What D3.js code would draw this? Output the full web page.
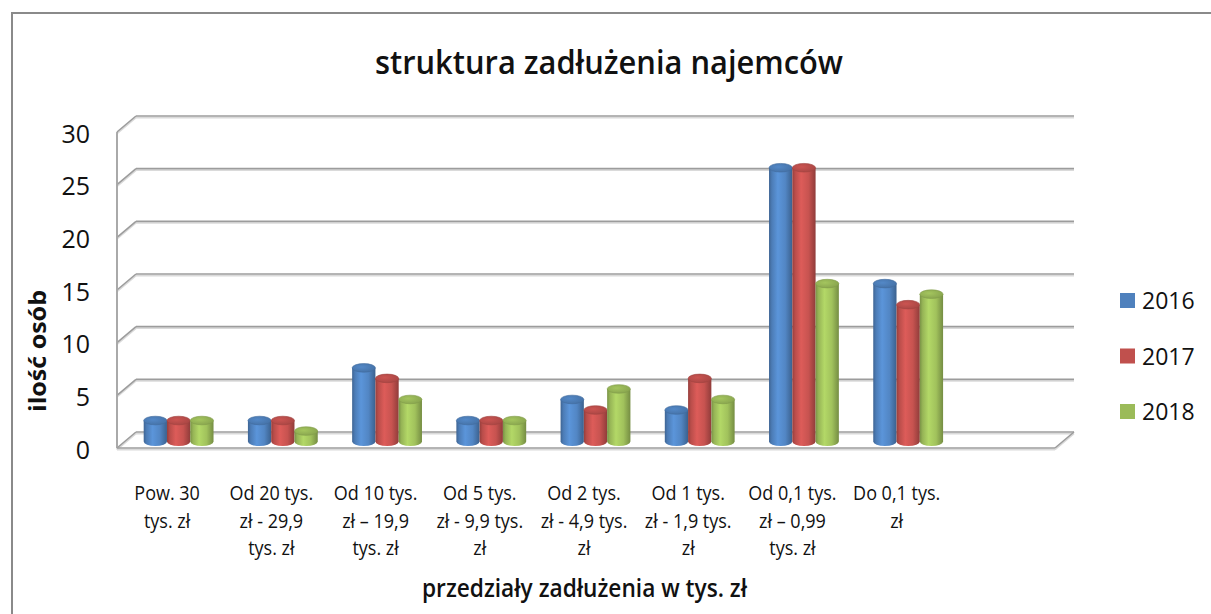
<!DOCTYPE html>
<html>
<head>
<meta charset="utf-8">
<script src="https://cdn.jsdelivr.net/npm/d3@7"></script>
<style>
  body { margin: 0; background: #fff; }
  text { font-family: "Open Sans", "DejaVu Sans", sans-serif; fill: #111; }
</style>
</head>
<body>
<div id="chart"></div>
<script>
var width = 1211,
	height = 614;

// data
var categories = ['Pow. 30 tys. zł', 'Od 20 tys. zł - 29,9 tys. zł', 'Od 10 tys. zł – 19,9 tys. zł',
	'Od 5 tys. zł - 9,9 tys. zł', 'Od 2 tys. zł - 4,9 tys. zł', 'Od 1 tys. zł - 1,9 tys. zł',
	'Od 0,1 tys. zł – 0,99 tys. zł', 'Do 0,1 tys. zł'];
var tickLines = [
	['Pow. 30', 'tys. zł'],
	['Od 20 tys.', 'zł - 29,9', 'tys. zł'],
	['Od 10 tys.', 'zł – 19,9', 'tys. zł'],
	['Od 5 tys.', 'zł - 9,9 tys.', 'zł'],
	['Od 2 tys.', 'zł - 4,9 tys.', 'zł'],
	['Od 1 tys.', 'zł - 1,9 tys.', 'zł'],
	['Od 0,1 tys.', 'zł – 0,99', 'tys. zł'],
	['Do 0,1 tys.', 'zł']
];
var series = ['2016', '2017', '2018'];
var values2016 = [2, 2, 7, 2, 4, 3, 26, 15];
var values2017 = [2, 2, 6, 2, 3, 6, 26, 13];
var values2018 = [2, 1, 4, 2, 5, 4, 15, 14];
var yTicks = [0, 5, 10, 15, 20, 25, 30];
var colors = ['#4F81BD', '#C0504D', '#9BBB59'];

var seriesValues = [values2016, values2017, values2018];

var svg = d3.select('#chart').append('svg')
	.attr('width', width)
	.attr('height', height);

// outer chart border
svg.append('rect')
	.attr('x', 12).attr('y', 13)
	.attr('width', 1220).attr('height', 640)
	.style('fill', 'none')
	.style('stroke', '#8a8a8a')
	.style('stroke-width', 2);

// 3d box: front plane + depth offset
var DX = 19, DY = -16;
var left = 117, right = 1055;

// 9 slots, the last one is empty
var x = d3.scaleBand()
	.domain(categories.concat(['']))
	.range([left, right])
	.paddingInner(0.33)
	.paddingOuter(0.165);

var x1 = d3.scaleBand()
	.domain(series)
	.range([0, x.bandwidth()]);

var y = d3.scaleLinear()
	.domain([0, 30])
	.range([448, 132]);

var defs = svg.append('defs');
colors.forEach(function(c, i) {
	var base = d3.color(c);
	var g = defs.append('linearGradient')
		.attr('id', 'cyl' + i)
		.attr('x1', '0%').attr('x2', '100%')
		.attr('y1', '0%').attr('y2', '0%');
	[[0, base.darker(0.7)], [0.12, base.darker(0.1)], [0.38, base.brighter(0.4)],
	 [0.7, base.brighter(0.1)], [1, base.darker(0.8)]].forEach(function(s) {
		g.append('stop')
			.attr('offset', s[0])
			.attr('stop-color', s[1].formatHex());
	});
	var t = defs.append('radialGradient')
		.attr('id', 'top' + i)
		.attr('cx', '40%').attr('cy', '40%').attr('r', '70%');
	t.append('stop').attr('offset', 0).attr('stop-color', base.brighter(0.15).formatHex());
	t.append('stop').attr('offset', 1).attr('stop-color', base.darker(0.4).formatHex());
});

// grid lines
var grid = svg.append('g').attr('class', 'grid');

function gridLine(x1_, y1_, x2_, y2_) {
	grid.append('line')
		.attr('x1', x1_).attr('y1', y1_ + 1.6)
		.attr('x2', x2_).attr('y2', y2_ + 1.6)
		.style('stroke', '#dadada')
		.style('stroke-width', 1.6);
	grid.append('line')
		.attr('x1', x1_).attr('y1', y1_)
		.attr('x2', x2_).attr('y2', y2_)
		.style('stroke', '#9c9c9c')
		.style('stroke-width', 1.6);
}

yTicks.forEach(function(v) {
	// back wall
	gridLine(left + DX, y(v) + DY, right + DX, y(v) + DY);
	// side wall
	gridLine(left, y(v), left + DX, y(v) + DY);
});
// front vertical edge and floor
gridLine(left, y(0), left, y(30));
gridLine(left, y(0), right, y(0));
gridLine(right, y(0), right + DX, y(0) + DY);

// y tick labels
svg.append('g')
	.attr('transform', 'translate(' + left + ',2)')
	.call(d3.axisLeft(y).tickValues(yTicks).tickSize(0).tickPadding(27))
	.call(function(g) { g.select('.domain').remove(); })
	.selectAll('text')
	.style('font-size', '25px')
	.style('fill', '#111')
	.style('font-family', '"Open Sans", sans-serif');

// cylinders
var ry = 4.3;
var bars = svg.append('g').attr('class', 'bars');
categories.forEach(function(cat, ci) {
	series.forEach(function(s, si) {
		var v = seriesValues[si][ci];
		var r = x1.bandwidth() / 2;
		var cx = x(cat) + x1(s) + r + DX * 0.5;
		var yb = y(0) + DY * 0.4;
		var yt = y(v) + DY * 0.4;
		var g = bars.append('g');
		g.append('path')
			.attr('d', 'M' + (cx - r) + ',' + yt +
				'L' + (cx - r) + ',' + yb +
				'A' + r + ',' + ry + ' 0 0 0 ' + (cx + r) + ',' + yb +
				'L' + (cx + r) + ',' + yt + 'Z')
			.style('fill', 'url(#cyl' + si + ')');
		g.append('ellipse')
			.attr('cx', cx).attr('cy', yt)
			.attr('rx', r).attr('ry', ry)
			.style('fill', 'url(#top' + si + ')')
			.style('stroke', d3.color(colors[si]).darker(0.5).formatHex())
			.style('stroke-width', 0.6);
	});
});

// x tick labels, one text per line
var xl = svg.append('g').attr('class', 'x-labels');
categories.forEach(function(cat, ci) {
	tickLines[ci].forEach(function(line, li) {
		xl.append('text')
			.attr('transform', 'translate(' + (x(cat) + x.bandwidth() / 2 - 2) + ',' + (500 + li * 27.5) + ') scale(0.9,1)')
			.attr('text-anchor', 'middle')
			.style('font-size', '20px')
			.style('font-weight', 500)
			.text(line);
	});
});

// title
svg.append('text')
	.attr('x', 375).attr('y', 74)
	.attr('textLength', 468)
	.attr('lengthAdjust', 'spacingAndGlyphs')
	.style('font-size', '33px')
	.style('font-weight', 600)
	.text('struktura zadłużenia najemców');

// axis titles
svg.append('text')
	.attr('x', 422).attr('y', 597)
	.attr('textLength', 325)
	.attr('lengthAdjust', 'spacingAndGlyphs')
	.style('font-size', '25px')
	.style('font-weight', 600)
	.text('przedziały zadłużenia w tys. zł');

svg.append('text')
	.attr('transform', 'translate(46,412) rotate(-90)')
	.attr('textLength', 122)
	.attr('lengthAdjust', 'spacingAndGlyphs')
	.style('font-size', '23px')
	.style('font-weight', 'bold')
	.text('ilość osób');

// legend
var legend = svg.append('g').attr('class', 'legend');
series.forEach(function(s, i) {
	var ly = 293 + i * 55.5;
	legend.append('rect')
		.attr('x', 1120).attr('y', ly)
		.attr('width', 15).attr('height', 15)
		.style('fill', colors[i]);
	legend.append('text')
		.attr('x', 1142).attr('y', ly + 16)
		.style('font-size', '23px')
		.text(s);
});
</script>
</body>
</html>
